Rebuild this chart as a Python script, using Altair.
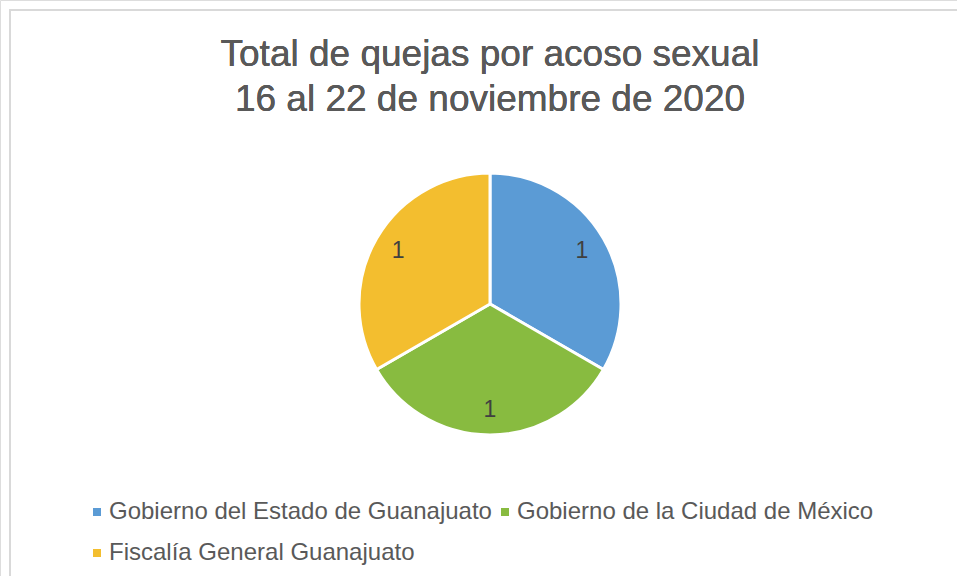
import altair as alt
import pandas as pd

categories = [
    "Gobierno del Estado de Guanajuato",
    "Gobierno de la Ciudad de México",
    "Fiscalía General Guanajuato",
]
values = [1, 1, 1]
colors = ["#5B9BD5", "#88BB40", "#F3BE2F"]
title_lines = ["Total de quejas por acoso sexual", "16 al 22 de noviembre de 2020"]

df = pd.DataFrame({"categoria": categories, "quejas": values, "orden": [0, 1, 2]})

FONT = "Liberation Sans"
CX, CY = 490, 304

color_enc = alt.Color(
    "categoria:N",
    scale=alt.Scale(domain=categories, range=colors),
    sort=categories,
    legend=alt.Legend(
        title=None,
        orient="none",
        legendX=85,
        legendY=500,
        direction="horizontal",
        columns=2,
        symbolType="square",
        symbolSize=64,
        symbolStrokeWidth=0,
        labelFont=FONT,
        labelFontSize=24,
        labelColor="#595959",
        labelLimit=600,
        labelOffset=0,
        columnPadding=1,
        rowPadding=17,
    ),
)

base = alt.Chart(df).encode(
    theta=alt.Theta("quejas:Q", stack=True),
    order=alt.Order("orden:Q"),
    color=color_enc,
)

border = alt.Chart(df).mark_rect(
    fill="transparent", stroke="#D9D9D9", strokeWidth=1.5
).encode(
    x=alt.value(10), x2=alt.value(1200), y=alt.value(10), y2=alt.value(900)
)

title = alt.Chart(df).mark_text(
    font=FONT,
    fontSize=37,
    fill="#595959",
    align="center",
    baseline="alphabetic",
    lineHeight=45,
).encode(
    text=alt.value(title_lines),
    x=alt.value(CX),
    y=alt.value(66),
    color=alt.value("#595959"),
)

pie = base.mark_arc(outerRadius=131, stroke="white", strokeWidth=3).encode(
    x=alt.value(CX), y=alt.value(CY)
)

labels = base.mark_text(
    radius=106, font=FONT, fontSize=23, fill="#404040"
).encode(
    text=alt.Text("quejas:Q"),
    x=alt.value(CX),
    y=alt.value(CY),
    color=alt.value("#404040"),
)

chart = (
    alt.layer(border, title, pie, labels)
    .properties(
        width=957,
        height=576,
        padding=0,
        autosize=alt.AutoSizeParams(type="none"),
    )
    .configure_view(strokeWidth=0, strokeOpacity=0)
    .configure(background="white")
)

chart.save("out.html", embed_options={"renderer": "svg", "actions": False})
